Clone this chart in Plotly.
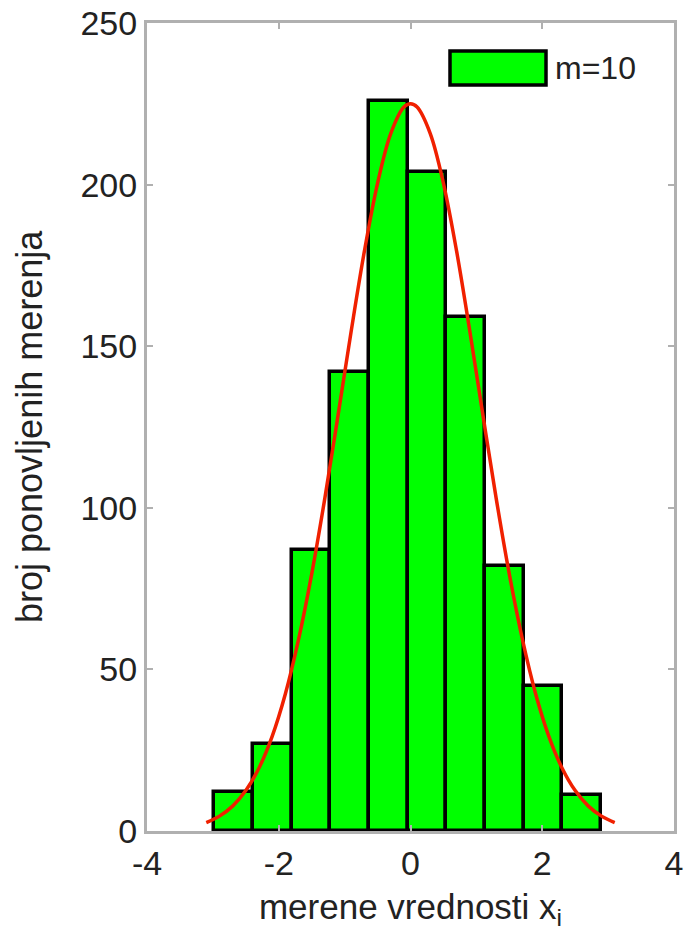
import plotly.graph_objects as go

# Histogram (10 bins, N ~ 1000)
bin_centers = [-2.686, -2.099, -1.512, -0.925, -0.338, 0.249, 0.836, 1.423, 2.010, 2.597]
counts = [12, 27, 87, 142, 226, 204, 159, 82, 45, 11]

# Fitted normal curve
curve_x = [-3.1, -2.9, -2.7, -2.5, -2.3, -2.1, -1.9, -1.7, -1.5, -1.3, -1.1, -0.9, -0.7,
           -0.5, -0.3, -0.1, 0.0, 0.1, 0.3, 0.5, 0.7, 0.9, 1.1, 1.3, 1.5, 1.7, 1.9,
           2.1, 2.3, 2.5, 2.7, 2.9, 3.1]
curve_y = [2.6, 4.6, 7.7, 12.5, 19.5, 29.3, 42.4, 59.2, 79.5, 103.0, 128.6, 154.7, 179.4,
           200.4, 215.8, 224.0, 225.0, 224.0, 215.8, 200.4, 179.4, 154.7, 128.6, 103.0, 79.5,
           59.2, 42.4, 29.3, 19.5, 12.5, 7.7, 4.6, 2.6]

legend_name = "m=10"
x_title = "merene vrednosti x<sub>i</sub>"
y_title = "broj ponovljenih merenja"
x_ticks = [-4, -2, 0, 2, 4]
y_ticks = [0, 50, 100, 150, 200, 250]

FONT = "Liberation Sans, Arial, sans-serif"
AXIS_COLOR = "#b0b0b0"
TEXT_COLOR = "#222222"

fig = go.Figure()
fig.add_trace(go.Bar(
    x=bin_centers, y=counts, name=legend_name,
    marker=dict(color="#00ff00", line=dict(color="black", width=3.5)),
    showlegend=False,
))
fig.add_trace(go.Scatter(
    x=curve_x, y=curve_y, mode="lines", line=dict(color="#f02000", width=3.5, shape="spline"),
    showlegend=False,
))

# MATLAB-style legend: wide green patch + label
fig.add_shape(type="rect", xref="paper", yref="paper",
              x0=(450 - 147) / 527, x1=(546 - 147) / 527,
              y0=(831 - 85) / 808, y1=(831 - 51) / 808,
              fillcolor="#00ff00", line=dict(color="black", width=3.5), layer="above")
fig.add_annotation(text=legend_name, xref="paper", yref="paper",
                   x=(553 - 147) / 527, y=(831 - 68) / 808, xanchor="left", yanchor="middle",
                   showarrow=False, font=dict(family=FONT, size=32, color=TEXT_COLOR))

# y-axis title placed close to the left edge, as in the original
fig.add_annotation(text=y_title, xref="paper", yref="paper",
                   x=(29 - 147) / 527, y=0.5, xanchor="center", yanchor="middle",
                   textangle=-90, showarrow=False,
                   font=dict(family=FONT, size=36, color=TEXT_COLOR))

axis_common = dict(
    showline=True, linecolor=AXIS_COLOR, linewidth=3, mirror="ticks",
    ticks="inside", ticklen=6, tickwidth=2, tickcolor=AXIS_COLOR,
    showgrid=False, zeroline=False, automargin=False,
    tickfont=dict(family=FONT, size=34, color=TEXT_COLOR),
)

fig.update_layout(
    width=687, height=935,
    margin=dict(l=147, r=13, t=23, b=104),
    paper_bgcolor="white", plot_bgcolor="white",
    bargap=0,
    font=dict(family=FONT, color=TEXT_COLOR),
    xaxis=dict(range=[-4, 4], tickvals=x_ticks, ticktext=[str(v) for v in x_ticks],
               title=dict(text=x_title, font=dict(family=FONT, size=35, color=TEXT_COLOR), standoff=14),
               **axis_common),
    yaxis=dict(range=[0, 250], tickvals=y_ticks, ticktext=[str(v) for v in y_ticks],
               **axis_common),
)

fig.write_html("out.html")
